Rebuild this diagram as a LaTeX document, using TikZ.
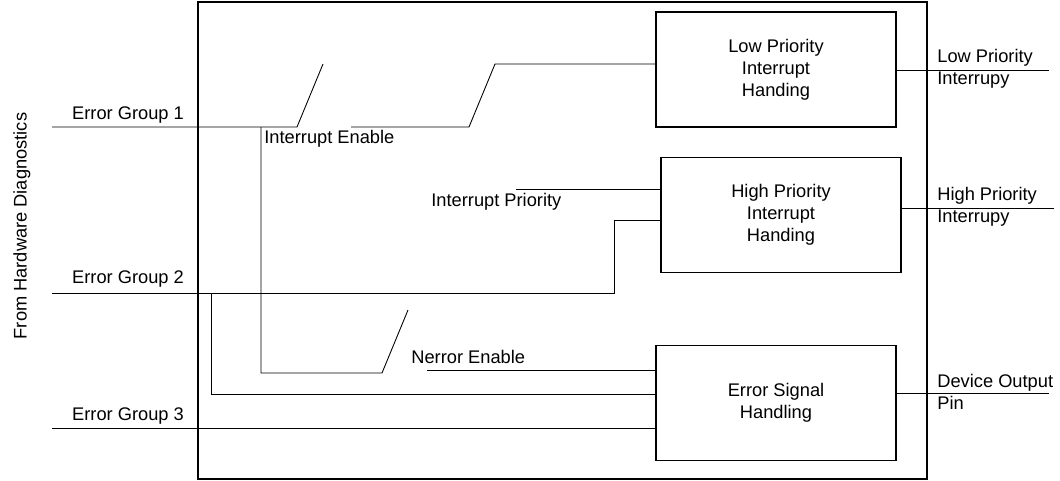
\documentclass[tikz,border=0pt]{standalone}
\usepackage{fontspec}
\setmainfont{Liberation Sans}
\usetikzlibrary{positioning}
\tikzset{
  blockbox/.style={draw, line width=1.1pt, minimum width=4.8cm, minimum height=2.3cm, align=center, inner sep=0pt},
  wire/.style={line width=0.5pt},
  lbl/.style={inner sep=0pt},
}
\begin{document}
\begin{tikzpicture}[x=0.02cm, y=-0.02cm, font=\fontsize{10.4}{12.6}\selectfont]
        \useasboundingbox (0,0) rectangle (1060,480);
        % outer device frame
        \coordinate (devtopleft)     at (198,  2);
        \coordinate (devbottomright) at (927,479);
        \draw[line width=1.2pt] (devtopleft) rectangle (devbottomright);
        % handling blocks
        \node[blockbox] (lowblock)  at (776, 69.5) {Low Priority\\Interrupt\\Handing};
        \node[blockbox] (highblock) at (781,215)   {High Priority\\Interrupt\\Handing};
        \node[blockbox] (errblock)  at (776,403)   {Error Signal\\Handling};
        % coordinates for the inputs
        \coordinate (grpone)   at ( 52,127);
        \coordinate (grptwo)   at ( 52,293);
        \coordinate (grpthree) at ( 52,428);
        % coordinates for the interrupt enable switch
        \coordinate (ieclosed) at (297,127);
        \coordinate (ieopen)   at (323, 64);
        \coordinate (ieout)    at (351,127);
        \coordinate (iebottom) at (469,127);
        \coordinate (ietop)    at (495, 64);
        % coordinates for the nerror enable switch
        \coordinate (ietap)    at (261,127);
        \coordinate (ietapend) at (382,373);
        \coordinate (neopen)   at (408,310);
        % coordinates for group two routing
        \coordinate (twoup)    at (614,293);
        \coordinate (twotap)   at (211,293);
        % loose ends of the enable lines
        \coordinate (priostart) at (516,189);
        \coordinate (nestart)   at (427,370);
        % coordinates for the outputs
        \coordinate (lowout)  at (1049, 70);
        \coordinate (highout) at (1054,208);
        \coordinate (pinout)  at (1049,393);
        % drawing the error group one path
        \draw[wire] (grpone) -- (ieclosed) -- (ieopen);
        \draw[wire] (ieout) -- (iebottom) -- (ietop) -- (ietop -| lowblock.west);
        \draw[wire] (ietap) |- (ietapend) -- (neopen);
        % drawing the error group two path
        \draw[wire] (grptwo) -- (twoup) |- (highblock.west |- 0,220);
        \draw[wire] (twotap) |- (errblock.west |- 0,394);
        % drawing the error group three path
        \draw[wire] (grpthree) -- (grpthree -| errblock.west);
        % drawing the enable lines
        \draw[wire] (priostart) -- (priostart -| highblock.west);
        \draw[wire] (nestart) -- (nestart -| errblock.west);
        % drawing the outputs
        \draw[wire] (lowblock.east |- lowout) -- (lowout);
        \draw[wire] (highblock.east |- highout) -- (highout);
        \draw[wire] (errblock.east |- pinout) -- (pinout);
        % labels
        \node[lbl, rotate=90] (fromhw) at (22,226) {From Hardware Diagnostics};
        \node[lbl] (grponelbl)   at (128,115) {Error Group 1};
        \node[lbl] (grptwolbl)   at (128,279) {Error Group 2};
        \node[lbl] (grpthreelbl) at (128,416) {Error Group 3};
        \node[lbl, anchor=west] (ielbl)   at (264,139) {Interrupt Enable};
        \node[lbl, anchor=west] (priolbl) at (431,202) {Interrupt Priority};
        \node[lbl, anchor=west] (nelbl)   at (411,357) {Nerror Enable};
        \node[lbl, anchor=west, align=left] (lowoutlbl)  at (937, 69) {Low Priority\\Interrupy};
        \node[lbl, anchor=west, align=left] (highoutlbl) at (937,207) {High Priority\\Interrupy};
        \node[lbl, anchor=west, align=left] (pinoutlbl)  at (937,392) {Device Output\\Pin};
\end{tikzpicture}
\end{document}
